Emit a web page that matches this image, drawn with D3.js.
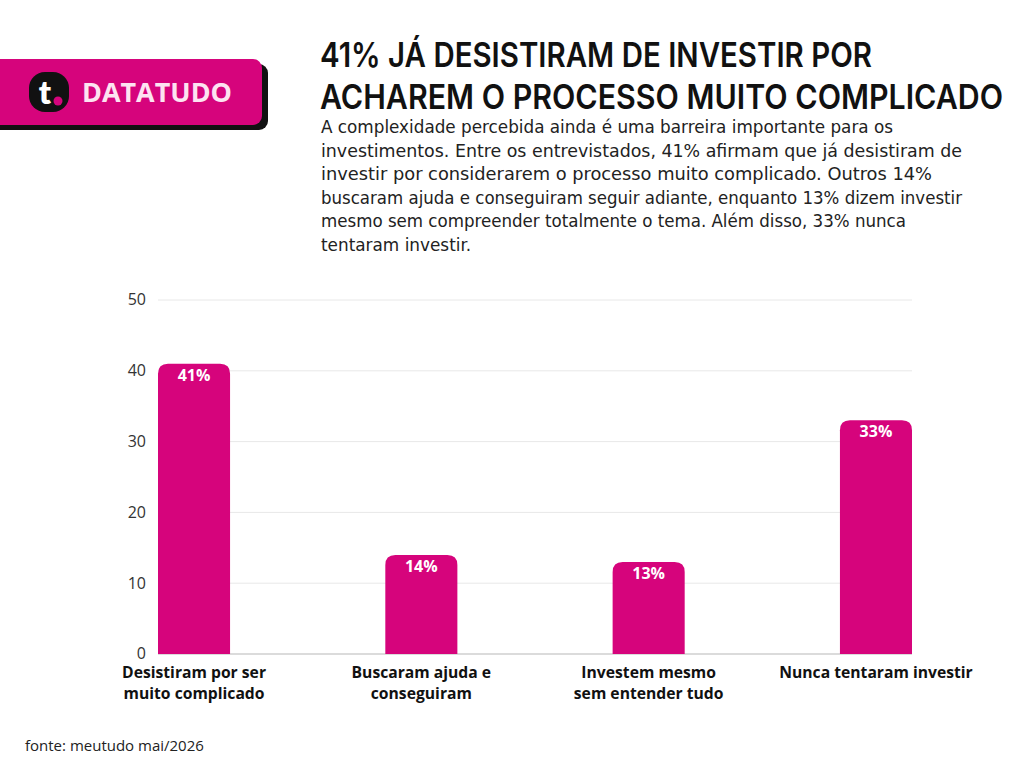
<!DOCTYPE html>
<html>
<head>
<meta charset="utf-8">
<script src="https://cdn.jsdelivr.net/npm/d3@7"></script>
<style>
  html, body { margin: 0; padding: 0; background: #fff; }
  svg { display: block; }
</style>
</head>
<body>
<div id="chart"></div>
<script>
const categories = [
  ["Desistiram por ser", "muito complicado"],
  ["Buscaram ajuda e", "conseguiram"],
  ["Investem mesmo", "sem entender tudo"],
  ["Nunca tentaram investir"]
];
const values = [41, 14, 13, 33];
const yTicks = [0, 10, 20, 30, 40, 50];
const titleLines = [
  "41% JÁ DESISTIRAM DE INVESTIR POR",
  "ACHAREM O PROCESSO MUITO COMPLICADO"
];
const bodyLines = [
  "A complexidade percebida ainda é uma barreira importante para os",
  "investimentos. Entre os entrevistados, 41% afirmam que já desistiram de",
  "investir por considerarem o processo muito complicado. Outros 14%",
  "buscaram ajuda e conseguiram seguir adiante, enquanto 13% dizem investir",
  "mesmo sem compreender totalmente o tema. Além disso, 33% nunca",
  "tentaram investir."
];
const source = "fonte: meutudo mai/2026";

const width = 1024, height = 768;
const pink = "#d6047c";

const svg = d3.select("#chart").append("svg")
  .attr("width", width)
  .attr("height", height)
  .style("font-family", "'Open Sans', sans-serif");

// logo badge
const logo = svg.append("g");
logo.append("rect")
  .attr("x", -20).attr("y", 64).attr("width", 288).attr("height", 66)
  .attr("rx", 9).attr("fill", "#111");
logo.append("rect")
  .attr("x", -20).attr("y", 59).attr("width", 282).attr("height", 66)
  .attr("rx", 9).attr("fill", pink);
logo.append("rect")
  .attr("x", 29).attr("y", 72).attr("width", 40).attr("height", 40)
  .attr("rx", 16).attr("fill", "#111");
logo.append("text")
  .attr("x", 45).attr("y", 104)
  .attr("text-anchor", "middle")
  .attr("fill", "#fff")
  .style("font-weight", 800).style("font-size", "32px")
  .style("font-family", "Lato, sans-serif")
  .text("t");
logo.append("circle")
  .attr("cx", 58).attr("cy", 101).attr("r", 4.5).attr("fill", pink);
logo.append("text")
  .attr("x", 82).attr("y", 102)
  .attr("fill", "#fde3f1")
  .style("font-weight", 700).style("font-size", "27px")
  .attr("textLength", 150).attr("lengthAdjust", "spacingAndGlyphs")
  .text("DATATUDO");

// title
const titleWidths = [552, 683];
svg.append("g").selectAll("text")
  .data(titleLines)
  .join("text")
    .attr("x", 320)
    .attr("y", (d, i) => 67 + i * 42)
    .attr("fill", "#111")
    .style("font-family", "Inter, sans-serif")
    .style("font-weight", 600)
    .style("font-size", "34px")
    .attr("textLength", (d, i) => titleWidths[i])
    .attr("lengthAdjust", "spacingAndGlyphs")
    .text(d => d);

// body text
const bodyWidths = [572, 641, 611, 641, 585, 150];
svg.append("g").selectAll("text")
  .data(bodyLines)
  .join("text")
    .attr("x", 321)
    .attr("y", (d, i) => 133 + i * 23.6)
    .attr("fill", "#222")
    .style("font-family", "'Liberation Sans Narrow', 'DejaVu Sans Condensed', sans-serif")
    .style("font-size", "18px")
    .attr("textLength", (d, i) => bodyWidths[i])
    .attr("lengthAdjust", "spacingAndGlyphs")
    .text(d => d);

// chart
const x = d3.scaleBand()
  .domain(d3.range(values.length))
  .range([158, 912])
  .paddingInner(0.683)
  .paddingOuter(0);

const y = d3.scaleLinear()
  .domain([0, 50])
  .range([654, 300]);

const grid = svg.append("g");
grid.selectAll("line")
  .data(yTicks)
  .join("line")
    .attr("x1", 158).attr("x2", 912)
    .attr("y1", d => y(d)).attr("y2", d => y(d))
    .attr("stroke", d => d === 0 ? "#cfcfcf" : "#e8e8e8")
    .attr("stroke-width", d => d === 0 ? 1.5 : 1);

const yAxis = svg.append("g")
  .attr("transform", "translate(146,0)")
  .call(d3.axisLeft(y).tickValues(yTicks).tickSize(0).tickPadding(0));
yAxis.select(".domain").remove();
yAxis.selectAll("text")
  .attr("fill", "#333")
  .attr("dy", "0.3em")
  .style("font-size", "16px")
  .style("font-family", "'Open Sans', sans-serif");

const r = 10;
function barPath(x0, w, y0, y1) {
  return `M${x0},${y1}V${y0 + r}Q${x0},${y0} ${x0 + r},${y0}H${x0 + w - r}Q${x0 + w},${y0} ${x0 + w},${y0 + r}V${y1}Z`;
}

svg.append("g").selectAll("path")
  .data(values)
  .join("path")
    .attr("d", (d, i) => barPath(x(i), x.bandwidth(), y(d), y(0)))
    .attr("fill", pink);

svg.append("g").selectAll("text")
  .data(values)
  .join("text")
    .attr("x", (d, i) => x(i) + x.bandwidth() / 2)
    .attr("y", d => y(d) + 17)
    .attr("text-anchor", "middle")
    .attr("fill", "#fff")
    .style("font-weight", 700)
    .style("font-size", "16px")
    .text(d => d + "%");

const xl = svg.append("g").selectAll("text")
  .data(categories)
  .join("text")
    .attr("x", (d, i) => x(i) + x.bandwidth() / 2)
    .attr("y", 678)
    .attr("text-anchor", "middle")
    .attr("fill", "#111")
    .style("font-weight", 700)
    .style("font-size", "15.7px");
xl.selectAll("tspan")
  .data(d => d)
  .join("tspan")
    .attr("x", function() { return this.parentNode.getAttribute("x"); })
    .attr("dy", (d, i) => i === 0 ? 0 : 21)
    .text(d => d);

svg.append("text")
  .attr("x", 25).attr("y", 751)
  .attr("fill", "#222")
  .style("font-size", "15px")
  .text(source);
</script>
</body>
</html>
